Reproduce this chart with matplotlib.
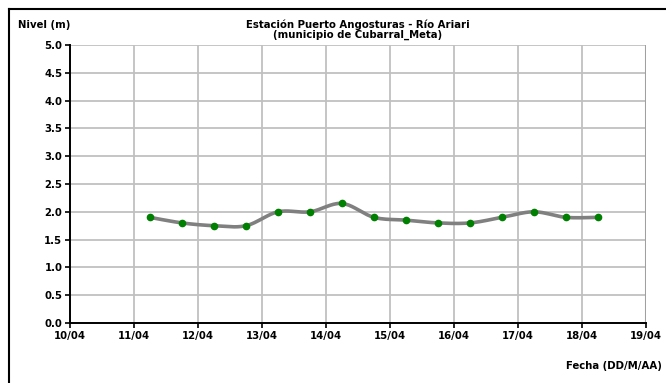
import numpy as np
import matplotlib
matplotlib.use("Agg")
from matplotlib import pyplot as plt
from matplotlib.lines import Line2D

plt.rcParams['font.family'] = ['DejaVu Sans']

# days of April (measurement time as fractional day)
dias = [11.25, 11.75, 12.25, 12.75, 13.25, 13.75, 14.25, 14.75,
        15.25, 15.75, 16.25, 16.75, 17.25, 17.75, 18.25]
nivel = [1.9, 1.8, 1.75, 1.75, 2.0, 2.0, 2.15, 1.9,
         1.85, 1.8, 1.8, 1.9, 2.0, 1.9, 1.9]
tick_dias = [10, 11, 12, 13, 14, 15, 16, 17, 18, 19]
tick_labels = ['10/04', '11/04', '12/04', '13/04', '14/04',
               '15/04', '16/04', '17/04', '18/04', '19/04']
y_ticks = [0.0, 0.5, 1.0, 1.5, 2.0, 2.5, 3.0, 3.5, 4.0, 4.5, 5.0]


def smooth(x, y, n=20):
    # catmull-rom like the excel "smoothed line"
    x = np.asarray(x, float)
    y = np.asarray(y, float)
    px = np.concatenate([[x[0]], x, [x[-1]]])
    py = np.concatenate([[y[0]], y, [y[-1]]])
    xs, ys = [], []
    t = np.linspace(0, 1, n)
    for i in range(1, len(px) - 2):
        p0, p1, p2, p3 = py[i - 1], py[i], py[i + 1], py[i + 2]
        q0, q1, q2, q3 = px[i - 1], px[i], px[i + 1], px[i + 2]
        ys.append(0.5 * (2 * p1 + (-p0 + p2) * t + (2 * p0 - 5 * p1 + 4 * p2 - p3) * t ** 2
                         + (-p0 + 3 * p1 - 3 * p2 + p3) * t ** 3))
        xs.append(0.5 * (2 * q1 + (-q0 + q2) * t + (2 * q0 - 5 * q1 + 4 * q2 - q3) * t ** 2
                         + (-q0 + 3 * q1 - 3 * q2 + q3) * t ** 3))
    return np.concatenate(xs), np.concatenate(ys)


fig = plt.figure(figsize=(6.66, 3.83), dpi=100)
ax = fig.add_axes([70 / 666, 1 - 323 / 383, 576 / 666, 278 / 383])

sx, sy = smooth(dias, nivel)
ax.plot(sx, sy, color='#808080', lw=2.6, solid_capstyle='round', zorder=3)
ax.plot(dias, nivel, 'o', color='#008000', ms=4.5, zorder=4)

fs = 7.3
ax.set_xlim(10, 19)
ax.set_ylim(0, 5)
ax.set_xticks(tick_dias)
ax.set_xticklabels(tick_labels, fontsize=fs, fontweight='bold')
ax.set_yticks(y_ticks)
ax.set_yticklabels(['%.1f' % v for v in y_ticks], fontsize=fs, fontweight='bold')
ax.tick_params(direction='out', length=3.5, width=1.2, pad=2)
ax.grid(True, color='#c0c0c0', lw=1.3)
ax.set_axisbelow(True)
for s in ['top', 'right']:
    ax.spines[s].set_visible(False)
for s in ['left', 'bottom']:
    ax.spines[s].set_linewidth(1.4)
# last gridline on the right a bit thicker
ax.axvline(19, color='#a0a0a0', lw=2.2, zorder=1)

fig.text(358 / 666, 1 - 30 / 383, 'Estación Puerto Angosturas - Río Ariari\n(municipio de Cubarral_Meta)',
         ha='center', va='center', fontsize=fs, fontweight='bold', linespacing=1.0)
fig.text(18 / 666, 1 - 25 / 383, 'Nivel (m)', ha='left', va='center', fontsize=fs, fontweight='bold')
fig.text(662 / 666, 1 - 366 / 383, 'Fecha (DD/M/AA)', ha='right', va='center', fontsize=fs, fontweight='bold')

# outer chart frame (cut by the image edges)
fig.add_artist(Line2D([9 / 666, 9 / 666], [0, 1 - 9 / 383], color='black', lw=1.5))
fig.add_artist(Line2D([9 / 666, 1], [1 - 9 / 383, 1 - 9 / 383], color='black', lw=1.5))

fig.savefig('out.png', dpi=100)
